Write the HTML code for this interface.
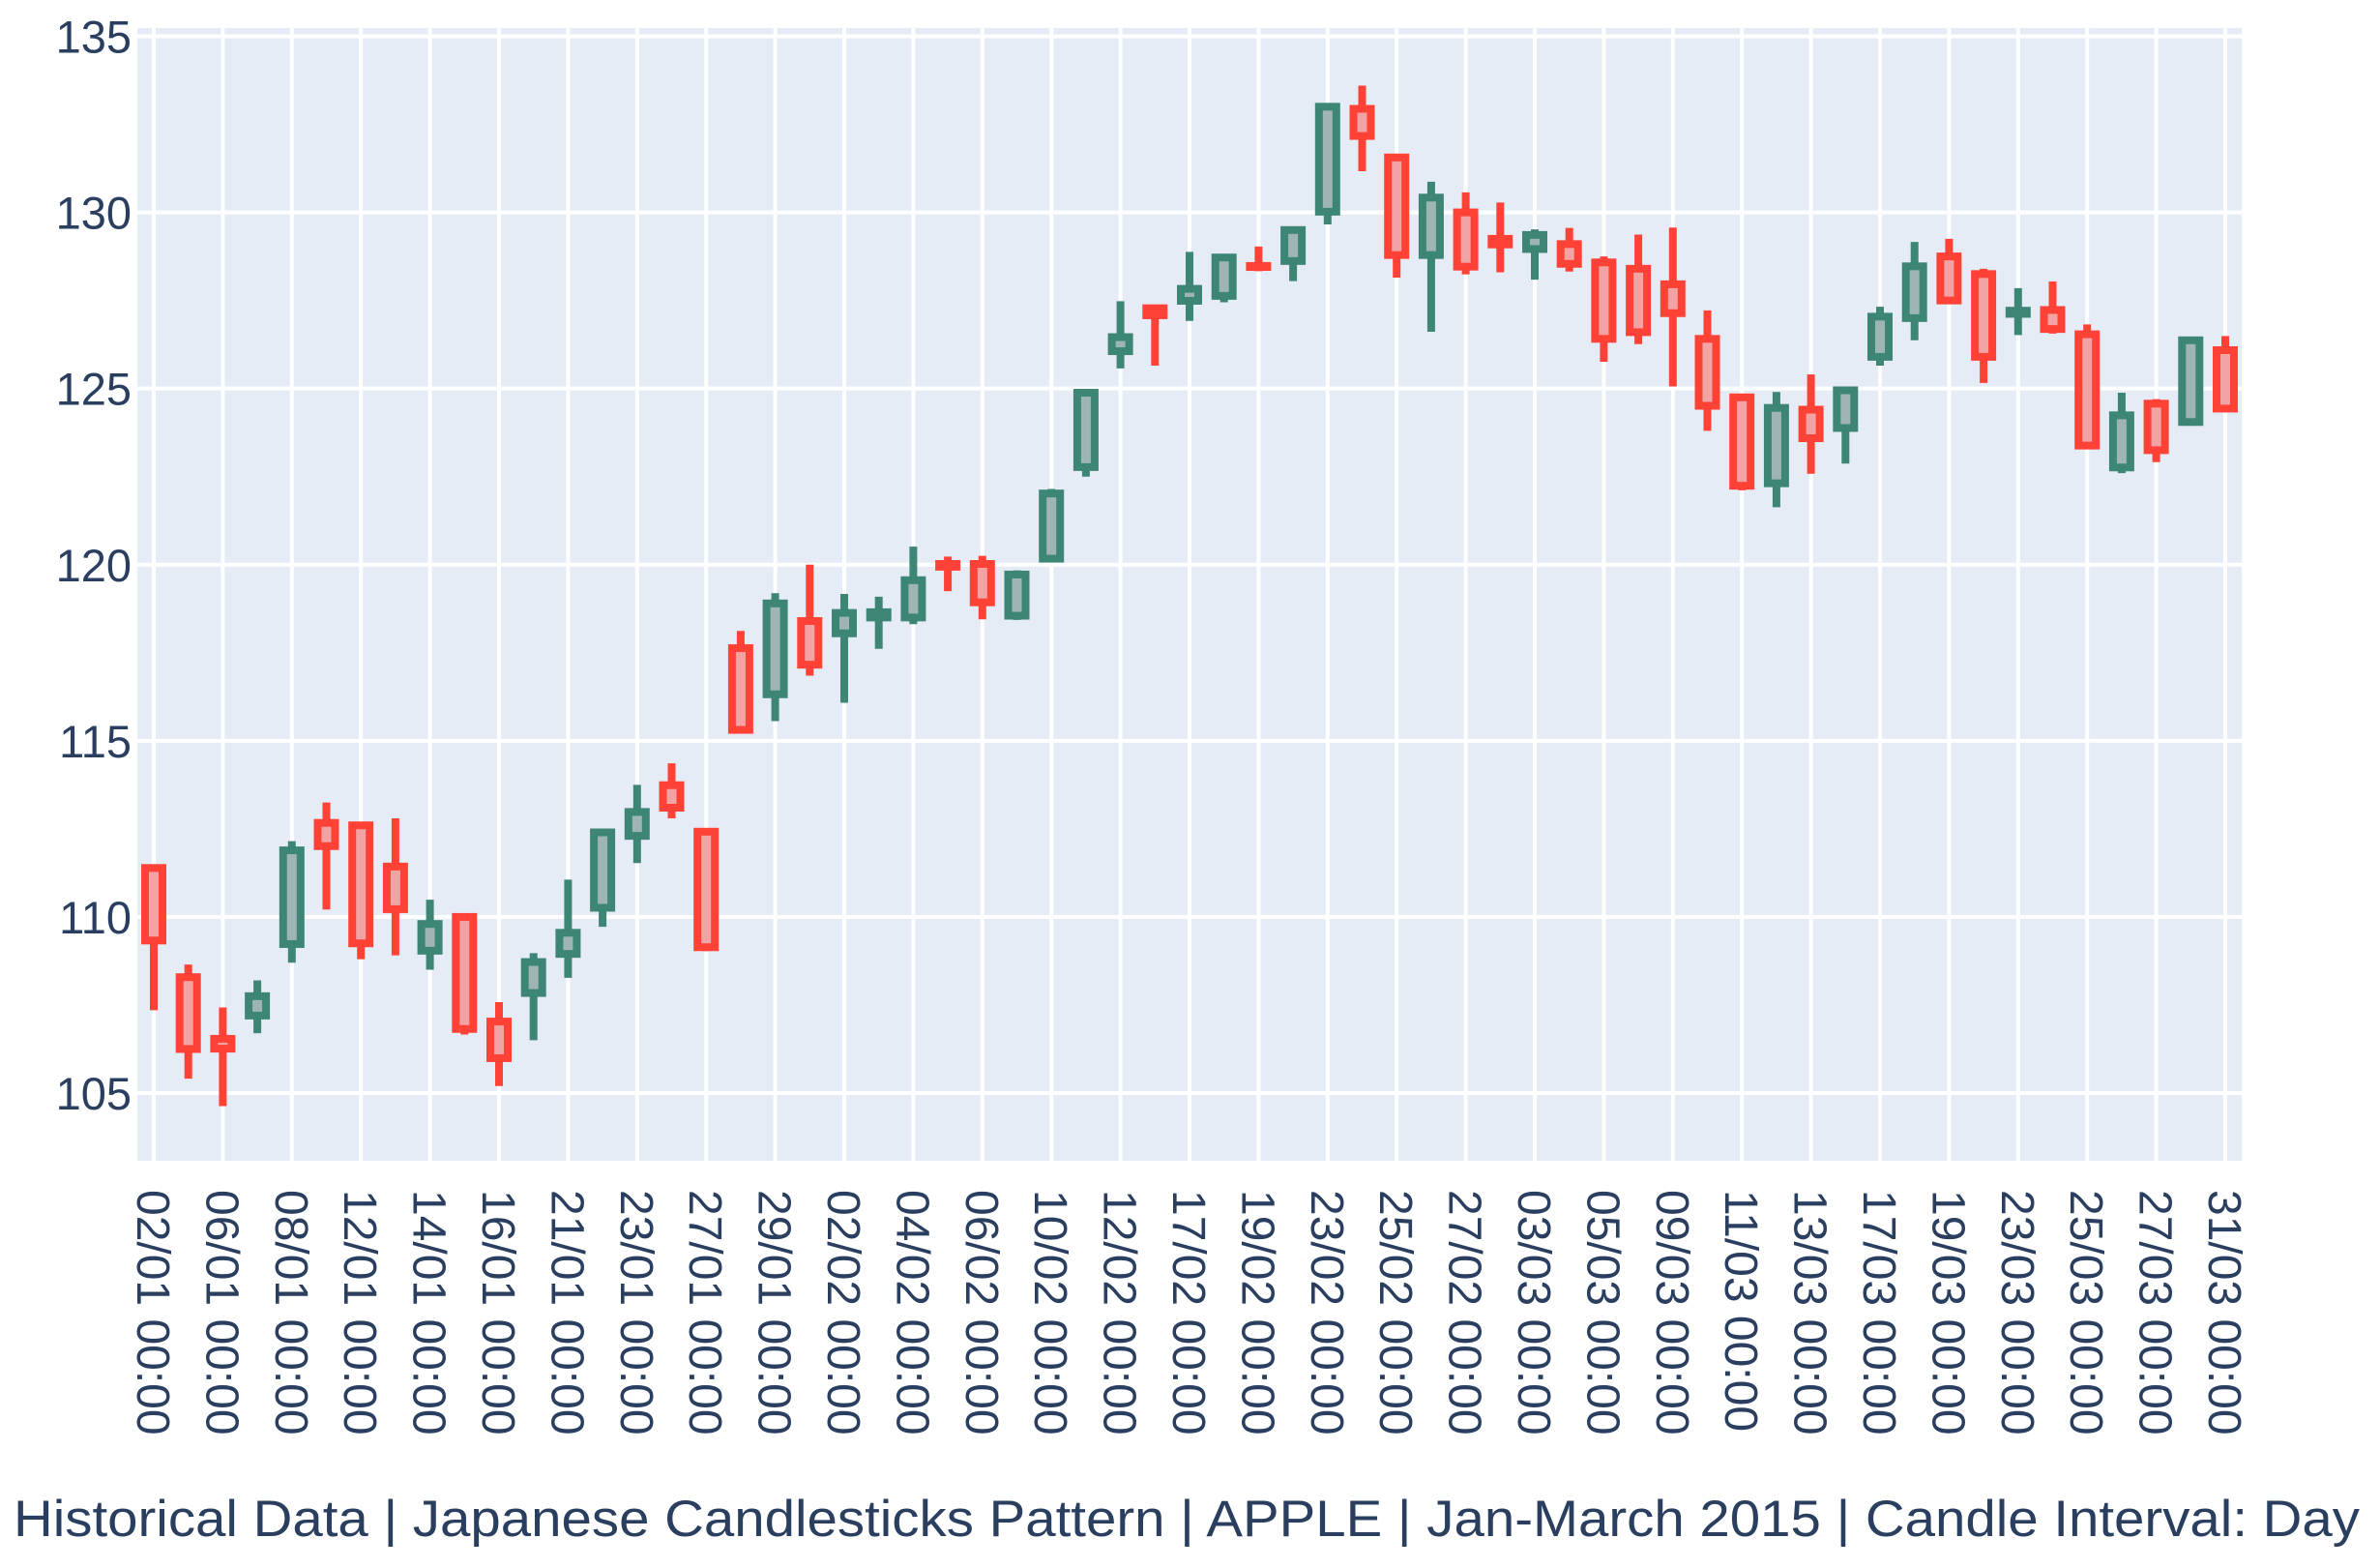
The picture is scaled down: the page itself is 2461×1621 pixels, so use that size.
<!DOCTYPE html>
<html><head><meta charset="utf-8">
<style>
html,body{margin:0;padding:0;background:#fff;}
svg{display:block;font-family:"Liberation Sans",Arial,sans-serif;}
</style></head>
<body>
<svg id="chart" width="2461" height="1621" viewBox="0 0 2461 1621" xmlns="http://www.w3.org/2000/svg">
<rect x="142" y="29" width="2176" height="1171" fill="#E5ECF6"/>
<g id="grid"></g>
<g id="candles"></g>
<g id="yticks"></g>
<g id="xticks"></g>
<text x="14" y="1588" font-size="53" fill="#2a3f5f" textLength="2426" lengthAdjust="spacingAndGlyphs">Historical Data | Japanese Candlesticks Pattern | APPLE | Jan-March 2015 | Candle Interval: Day</text>
</svg>
<script>
const dates = ["02/01","05/01","06/01","07/01","08/01","09/01","12/01","13/01","14/01","15/01","16/01","20/01","21/01","22/01","23/01","26/01","27/01","28/01","29/01","30/01","02/02","03/02","04/02","05/02","06/02","09/02","10/02","11/02","12/02","13/02","17/02","18/02","19/02","20/02","23/02","24/02","25/02","26/02","27/02","02/03","03/03","04/03","05/03","06/03","09/03","10/03","11/03","12/03","13/03","16/03","17/03","18/03","19/03","20/03","23/03","24/03","25/03","26/03","27/03","30/03","31/03"];
const opens = [111.39,108.29,106.54,107.20,109.23,112.67,112.60,111.43,109.04,110.00,107.03,107.84,108.95,110.26,112.30,113.74,112.42,117.63,116.32,118.40,118.05,118.50,118.50,120.02,120.02,118.55,120.17,122.77,126.06,127.28,127.49,127.63,128.48,128.62,130.02,132.94,131.56,128.79,130.00,129.25,128.96,129.10,128.58,128.40,127.96,126.41,124.75,122.31,124.40,123.88,125.90,127.00,128.75,128.25,127.12,127.23,126.54,122.76,124.57,124.05,126.09];
const highs = [111.44,108.65,107.43,108.20,112.15,113.25,112.63,112.80,110.49,110.06,107.58,108.97,111.06,112.47,113.75,114.36,112.48,118.12,119.19,120.00,119.17,119.09,120.51,120.23,120.25,119.84,122.15,124.92,127.48,127.28,128.88,128.78,129.03,129.50,133.00,133.60,131.60,130.87,130.57,130.28,129.52,129.56,128.75,129.37,129.57,127.22,124.77,124.90,125.40,124.95,127.32,129.16,129.25,128.40,127.85,128.04,126.82,124.88,124.70,126.40,126.49];
const lows = [107.35,105.41,104.63,106.70,108.70,110.21,108.80,108.91,108.50,106.66,105.20,106.50,108.27,109.72,111.53,112.80,109.03,115.31,115.56,116.85,116.08,117.61,118.31,119.25,118.45,118.43,120.16,122.50,125.57,125.65,126.92,127.45,128.33,128.05,129.66,131.17,128.15,126.61,128.24,128.30,128.09,128.32,125.76,126.26,125.06,123.80,122.11,121.63,122.58,122.87,125.65,126.37,127.40,125.16,126.52,126.56,123.38,122.60,122.91,124.00,124.36];
const closes = [109.33,106.25,106.26,107.75,111.89,112.01,109.25,110.22,109.80,106.82,105.99,108.72,109.55,112.40,112.98,113.10,109.14,115.31,118.90,117.16,118.63,118.65,119.56,119.94,118.93,119.72,122.02,124.88,126.46,127.08,127.83,128.72,128.45,129.50,133.00,132.17,128.79,130.42,128.46,129.09,129.36,128.54,126.41,126.60,127.14,124.51,122.24,124.45,123.59,124.95,127.04,128.47,127.50,125.90,127.21,126.69,123.38,124.24,123.25,126.37,124.43];
const yTicks = [105,110,115,120,125,130,135];

const NS="http://www.w3.org/2000/svg";
function xs(i){return 159 + i*(2301-159)/60;}
function ys(v){return 1130 - (v-105)*(1130-37.5)/30;}
function mk(tag,attrs,parent){const e=document.createElementNS(NS,tag);for(const k in attrs)e.setAttribute(k,attrs[k]);parent.appendChild(e);return e;}
const grid=document.getElementById('grid'),cg=document.getElementById('candles'),yt=document.getElementById('yticks'),xt=document.getElementById('xticks');

yTicks.forEach(v=>{
  const l=mk('line',{x1:142,x2:2318,y1:ys(v),y2:ys(v),stroke:'#fff','stroke-width':4},grid);
  
  
  const t=mk('text',{x:136,y:ys(v)+17,'font-size':47,fill:'#2a3f5f','text-anchor':'end'},yt);
  t.textContent=v;
  
  
});
for(let i=0;i<dates.length;i+=2){
  const x=xs(i);
  const l=mk('line',{x1:x,x2:x,y1:29,y2:1200,stroke:'#fff','stroke-width':4},grid);
  
  
  const t=mk('text',{x:0,y:0,'font-size':48,fill:'#2a3f5f',transform:`translate(${x-17},1230) rotate(90)`},xt);
  t.textContent=dates[i]+' 00:00';
  
  
}
dates.forEach((d,i)=>{
  const up=closes[i]>=opens[i];
  const col=up?'#3D8575':'#FF4136';
  const fill=up?'#9EB5B3':'#F2A3A3';
  const x=xs(i);
  const g=mk('g',{},cg);
  
  
  mk('line',{x1:x,x2:x,y1:ys(highs[i]),y2:ys(lows[i]),stroke:col,'stroke-width':8},g);
  const top=ys(Math.max(opens[i],closes[i])),bot=ys(Math.min(opens[i],closes[i]));
  mk('rect',{x:x-9,y:top,width:18,height:Math.max(bot-top,0.5),fill:fill,stroke:col,'stroke-width':8},g);
});
</script>
</body></html>
